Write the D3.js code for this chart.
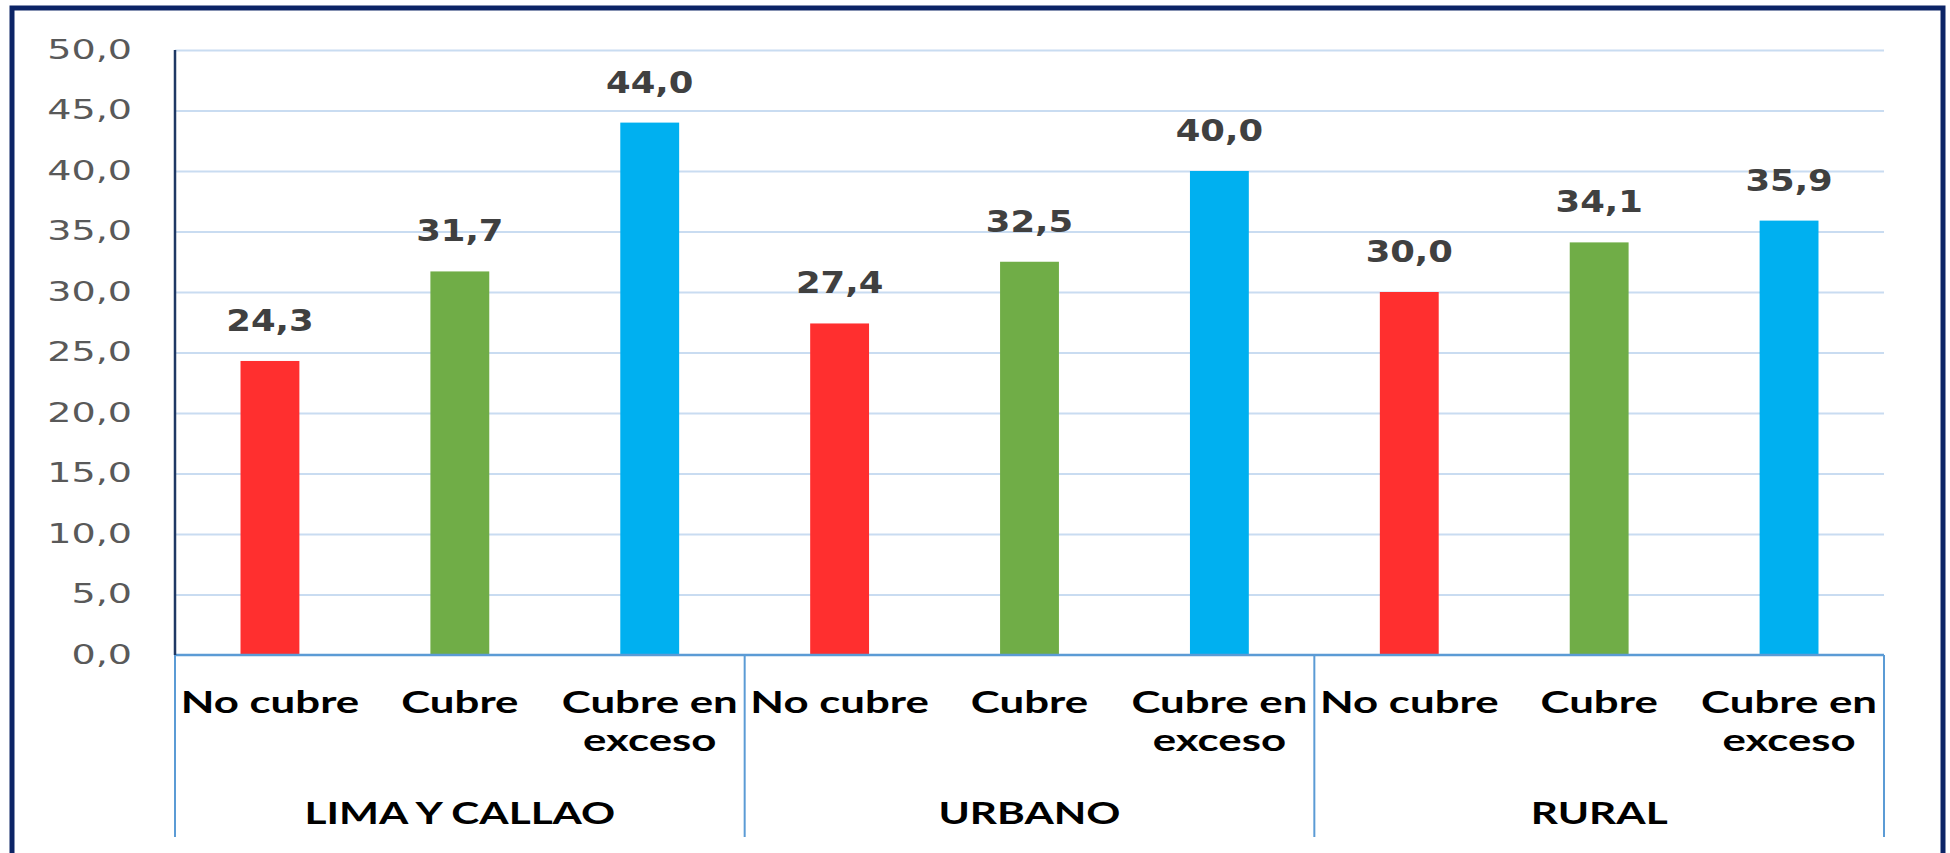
<!DOCTYPE html>
<html>
<head>
<meta charset="utf-8">
<title>Cubre / No cubre por ámbito</title>
<script src="https://d3js.org/d3.v7.min.js"></script>
<style>
  body { margin: 0; background: #fff; }
  svg { display: block; }
  .grid line { stroke: #c9dcf1; stroke-width: 2; }
  .grid path { display: none; }
  .axis-y path { display: none; }
  .axis-y text { font-family: "DejaVu Sans", sans-serif; font-size: 27px; fill: #595959; }
  .val { font-family: "DejaVu Sans", sans-serif; font-weight: bold; font-size: 30px; fill: #404040; }
  .cat { font-family: Lato, sans-serif; font-weight: bold; font-size: 30px; fill: #000; }
</style>
</head>
<body>
<svg width="1950" height="853"></svg>
<script>
const groups = ["LIMA Y CALLAO", "URBANO", "RURAL"];
const categories = ["No cubre", "Cubre", "Cubre en exceso"];
const catLines = [["No cubre"], ["Cubre"], ["Cubre en", "exceso"]];
const noCubre = [24.3, 27.4, 30.0];
const cubre = [31.7, 32.5, 34.1];
const cubreExceso = [44.0, 40.0, 35.9];
const yTicks = [0, 5, 10, 15, 20, 25, 30, 35, 40, 45, 50];
const barColors = ["#ff2f2f", "#70ad47", "#00b0f0"];

const series = [noCubre, cubre, cubreExceso];
const data = [];
groups.forEach((grp, gi) => {
    categories.forEach((c, ci) => {
        data.push({ group: grp, cat: c, value: series[ci][gi], color: barColors[ci] });
    });
});

const svg = d3.select("svg"),
      margin = { top: 50, right: 66, bottom: 198, left: 175 },
      width = 1950 - margin.left - margin.right,
      height = 853 - margin.top - margin.bottom;

// outer frame
svg.append("rect")
   .attr("x", 12).attr("y", 8)
   .attr("width", 1931).attr("height", 900)
   .attr("fill", "none")
   .attr("stroke", "#0c2466")
   .attr("stroke-width", 5);

const g = svg.append("g").attr("transform", `translate(${margin.left},${margin.top})`);

const fmt = d3.formatLocale({ decimal: ",", thousands: ".", grouping: [3], currency: ["", ""] }).format(".1f");

const y = d3.scaleLinear().domain([0, 50]).range([height, 0]);
const xGroup = d3.scaleBand().domain(groups).range([0, width]).padding(0);
const xCat = d3.scaleBand().domain(categories).range([0, xGroup.bandwidth()])
               .paddingInner(0.69).paddingOuter(0.345);

// gridlines
g.append("g")
 .attr("class", "grid")
 .call(d3.axisLeft(y).tickValues(yTicks.slice(1)).tickSize(-width).tickFormat(""));

// y labels (stretched like the original)
const ya = g.append("g")
            .attr("class", "axis-y")
            .call(d3.axisLeft(y).tickValues(yTicks).tickFormat(fmt).tickSize(0));
ya.selectAll("text")
  .attr("x", 0).attr("dy", null)
  .attr("transform", "translate(-43,8) scale(1.41,1)");

// bars
g.selectAll(".bar")
 .data(data)
 .enter()
 .append("rect")
 .attr("class", "bar")
 .attr("x", d => xGroup(d.group) + xCat(d.cat))
 .attr("y", d => y(d.value))
 .attr("width", xCat.bandwidth())
 .attr("height", d => height - y(d.value))
 .attr("fill", d => d.color);

// value labels
g.selectAll(".val")
 .data(data)
 .enter()
 .append("text")
 .attr("class", "val")
 .attr("text-anchor", "middle")
 .attr("transform", d => `translate(${xGroup(d.group) + xCat(d.cat) + xCat.bandwidth() / 2},${y(d.value) - 30}) scale(1.18,1)`)
 .text(d => fmt(d.value));

// axes lines
g.append("line")
 .attr("x1", 0).attr("x2", width)
 .attr("y1", height).attr("y2", height)
 .attr("stroke", "#5b9bd5").attr("stroke-width", 2.5);

const sepBottom = height + 182;
const seps = groups.map(grp => xGroup(grp)).concat([width]);
g.selectAll(".sep")
 .data(seps)
 .enter()
 .append("line")
 .attr("class", "sep")
 .attr("x1", d => d).attr("x2", d => d)
 .attr("y1", height).attr("y2", sepBottom)
 .attr("stroke", "#5b9bd5").attr("stroke-width", 2);

g.append("line")
 .attr("x1", 0).attr("x2", 0)
 .attr("y1", 0).attr("y2", height)
 .attr("stroke", "#1f3864").attr("stroke-width", 2.5);

// category labels
const catG = g.selectAll(".catg")
              .data(data)
              .enter()
              .append("g")
              .attr("class", "catg")
              .attr("transform", d => `translate(${xGroup(d.group) + xCat(d.cat) + xCat.bandwidth() / 2},${height})`);

catG.selectAll("text")
    .data(d => catLines[categories.indexOf(d.cat)])
    .enter()
    .append("text")
    .attr("class", "cat")
    .attr("text-anchor", "middle")
    .attr("transform", (d, i) => `translate(0,${58 + i * 38}) scale(1.46,1)`)
    .text(d => d);

// group labels
g.selectAll(".grp")
 .data(groups)
 .enter()
 .append("text")
 .attr("class", "cat")
 .attr("text-anchor", "middle")
 .attr("transform", d => `translate(${xGroup(d) + xGroup.bandwidth() / 2},${height + 169}) scale(1.41,1)`)
 .text(d => d);
</script>
</body>
</html>
